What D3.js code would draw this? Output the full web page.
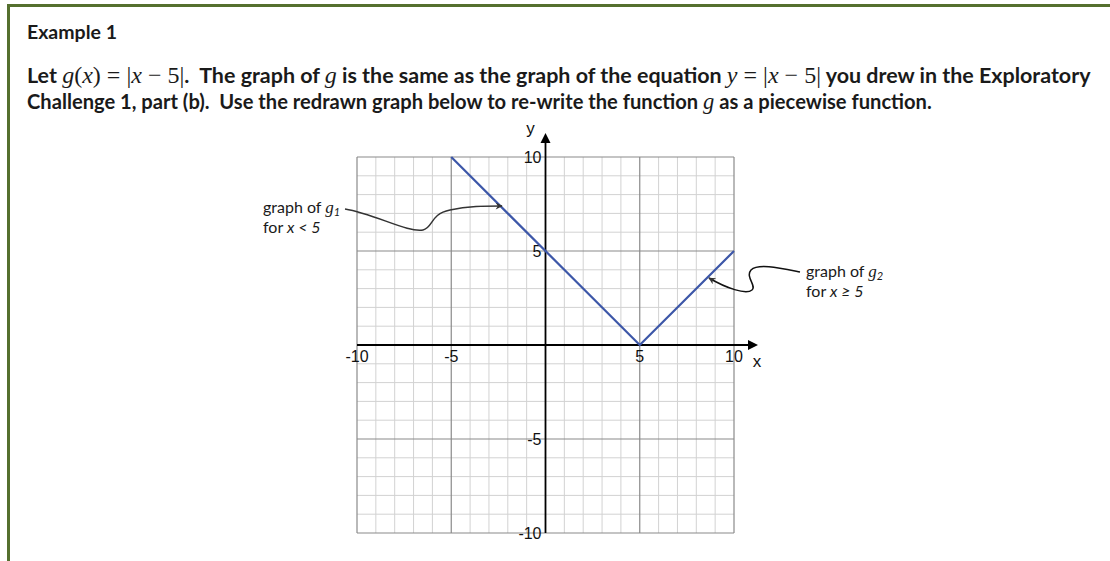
<!DOCTYPE html>
<html>
<head>
<meta charset="utf-8">
<script src="https://cdn.jsdelivr.net/npm/d3@7"></script>
<style>
  html, body { margin: 0; padding: 0; background: #fff; }
  svg { display: block; }
</style>
</head>
<body>
<svg id="chart" width="1110" height="561"></svg>
<script>
// ---- data ----
const gridValues = [-10,-9,-8,-7,-6,-5,-4,-3,-2,-1,0,1,2,3,4,5,6,7,8,9,10];
const xTickLabels = [-10, -5, 5, 10];
const yTickLabels = [-10, -5, 5, 10];
const lineX = [-5, 5, 10];   // g(x) = |x - 5|
const lineY = [10, 0, 5];

const W = 1110, H = 561;
const svg = d3.select("#chart");

// ---- frame ----
const frameColor = "#55702f";
svg.append("line").attr("x1", 7).attr("x2", W).attr("y1", 5.5).attr("y2", 5.5)
  .attr("stroke", frameColor).attr("stroke-width", 3);
svg.append("line").attr("x1", 8.5).attr("x2", 8.5).attr("y1", 4).attr("y2", H)
  .attr("stroke", frameColor).attr("stroke-width", 3);

// ---- heading text ----
const textFont = "Lato, 'Open Sans', sans-serif";
const mathFont = "'Liberation Serif', 'DejaVu Serif', serif";

// segments: [text, kind] where kind: t = plain bold text, mi = math italic, mu = math upright
function fittedLine(yPos, segs, targetWidth) {
  const t = svg.append("text").attr("x", 27).attr("y", yPos)
    .attr("font-family", textFont).attr("font-weight", 700).attr("font-size", 17)
    .attr("fill", "#1a1a1a").attr("xml:space", "preserve");
  segs.forEach(([s, k]) => {
    const sp = t.append("tspan").text(s);
    if (k !== "t") {
      sp.attr("font-family", mathFont).attr("font-weight", 400).attr("font-size", "1.12em");
      if (k === "mi") sp.attr("font-style", "italic");
    }
  });
  const w = t.node().getComputedTextLength();
  t.attr("font-size", 17 * targetWidth / w);
  return t;
}

fittedLine(39, [["Example 1", "t"]], 90);

fittedLine(83, [
  ["Let ", "t"], ["g", "mi"], ["(", "mu"], ["x", "mi"], [") = |", "mu"], ["x", "mi"], [" \u2212 5|", "mu"],
  [".  The graph of ", "t"], ["g", "mi"], [" is the same as the graph of the equation ", "t"],
  ["y", "mi"], [" = |", "mu"], ["x", "mi"], [" \u2212 5|", "mu"], [" you drew in the Exploratory", "t"]
], 1064);

fittedLine(109, [
  ["Challenge 1, part (b).  Use the redrawn graph below to re-write the function ", "t"],
  ["g", "mi"], [" as a piecewise function.", "t"]
], 905);

// ---- scales ----
const x = d3.scaleLinear().domain([-10, 10]).range([357, 734]);
const y = d3.scaleLinear().domain([-10, 10]).range([533, 157]);

// ---- grid ----
const grid = svg.append("g");
const minor = gridValues.filter(v => v % 5 !== 0);
const major = gridValues.filter(v => v % 5 === 0 && v !== 0);
[[minor, "#d2d2d2", 1], [major, "#8a8a8a", 1.2]].forEach(([vals, col, sw]) => {
  grid.selectAll(null).data(vals).enter().append("line")
    .attr("x1", d => x(d)).attr("x2", d => x(d))
    .attr("y1", y(-10)).attr("y2", y(10))
    .attr("stroke", col).attr("stroke-width", sw);
  grid.selectAll(null).data(vals).enter().append("line")
    .attr("y1", d => y(d)).attr("y2", d => y(d))
    .attr("x1", x(-10)).attr("x2", x(10))
    .attr("stroke", col).attr("stroke-width", sw);
});

// ---- axes with arrowheads ----
const axisG = svg.append("g");
const xTip = x(10) + 24, yTip = y(10) - 24;
axisG.append("line").attr("x1", x(-10)).attr("x2", xTip - 4).attr("y1", y(0)).attr("y2", y(0))
  .attr("stroke", "#000").attr("stroke-width", 1.8);
axisG.append("path")
  .attr("d", `M${xTip},${y(0)} L${xTip - 10},${y(0) - 5} L${xTip - 10},${y(0) + 5} Z`)
  .attr("fill", "#000");
axisG.append("line").attr("x1", x(0)).attr("x2", x(0)).attr("y1", y(-10)).attr("y2", yTip + 4)
  .attr("stroke", "#000").attr("stroke-width", 1.8);
axisG.append("path")
  .attr("d", `M${x(0)},${yTip} L${x(0) - 5},${yTip + 10} L${x(0) + 5},${yTip + 10} Z`)
  .attr("fill", "#000");

const tickFont = "'Liberation Sans', Arial, sans-serif";
axisG.selectAll(null).data(xTickLabels).enter().append("text")
  .attr("x", d => x(d)).attr("y", y(0) + 17)
  .attr("text-anchor", "middle")
  .attr("font-family", tickFont).attr("font-size", 16).attr("fill", "#111")
  .text(d => d);
axisG.selectAll(null).data(yTickLabels).enter().append("text")
  .attr("x", x(0) - 4).attr("y", d => y(d) + 6)
  .attr("text-anchor", "end")
  .attr("font-family", tickFont).attr("font-size", 16).attr("fill", "#111")
  .text(d => d);
axisG.append("text").attr("x", xTip - 1).attr("y", y(0) + 22).attr("text-anchor", "middle")
  .attr("font-family", tickFont).attr("font-size", 17).attr("fill", "#111").text("x");
axisG.append("text").attr("x", x(0) - 15).attr("y", yTip + 1).attr("text-anchor", "middle")
  .attr("font-family", tickFont).attr("font-size", 17).attr("fill", "#111").text("y");

// ---- graph of g ----
const pts = lineX.map((v, i) => [v, lineY[i]]);
svg.append("path")
  .attr("d", d3.line().x(d => x(d[0])).y(d => y(d[1]))(pts))
  .attr("fill", "none").attr("stroke", "#3d57a8").attr("stroke-width", 2.2)
  .attr("stroke-linejoin", "miter");

// ---- annotations ----
svg.append("defs").append("marker")
  .attr("id", "arrowhead").attr("viewBox", "0 0 10 10")
  .attr("refX", 9).attr("refY", 5)
  .attr("markerWidth", 10).attr("markerHeight", 7)
  .attr("markerUnits", "userSpaceOnUse").attr("orient", "auto")
  .append("path").attr("d", "M0,0 L10,5 L0,10 L3,5 Z").attr("fill", "#333");

const noteG = svg.append("g");
noteG.append("path")
  .attr("d", "M345,209 C375,214 408,233 423,230 C433,228 430,214 450,210 C468,206 484,206 502,206")
  .attr("fill", "none").attr("stroke", "#333").attr("stroke-width", 1.5)
  .attr("marker-end", "url(#arrowhead)");
noteG.append("path")
  .attr("d", "M800,272 C780,268 758,263 751,270 C745,277 757,286 752,290 C746,295 726,288 709,278")
  .attr("fill", "none").attr("stroke", "#111").attr("stroke-width", 1.5)
  .attr("marker-end", "url(#arrowhead)");

function note(x0, y0, idx, rel) {
  const t1 = noteG.append("text").attr("x", x0).attr("y", y0)
    .attr("font-family", textFont).attr("font-size", 16).attr("fill", "#1a1a1a")
    .attr("xml:space", "preserve");
  t1.append("tspan").text("graph of ");
  t1.append("tspan").attr("font-family", mathFont).attr("font-style", "italic").attr("font-size", 17).text("g");
  t1.append("tspan").attr("font-style", "italic").attr("font-size", 11).attr("dy", 3).text(idx);
  const t2 = noteG.append("text").attr("x", x0).attr("y", y0 + 20)
    .attr("font-family", textFont).attr("font-size", 16).attr("fill", "#1a1a1a")
    .attr("xml:space", "preserve");
  t2.append("tspan").text("for ");
  t2.append("tspan").attr("font-style", "italic").text("x " + rel + " 5");
}
note(263, 213, "1", "<");
note(806, 277, "2", "\u2265");
</script>
</body>
</html>
